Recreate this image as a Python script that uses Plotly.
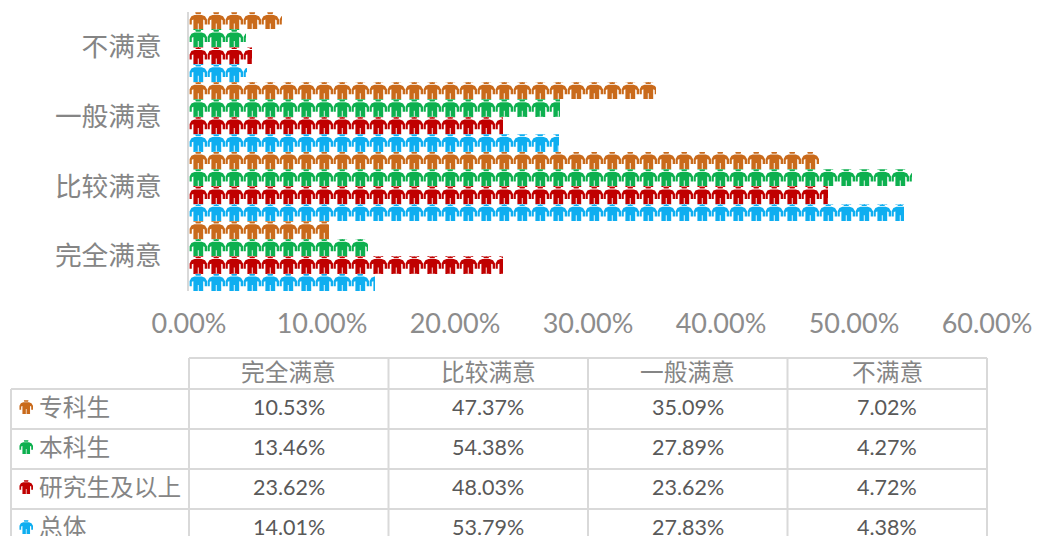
import base64
import plotly.graph_objects as go

categories = ["完全满意", "比较满意", "一般满意", "不满意"]
series_names = ["专科生", "本科生", "研究生及以上", "总体"]
zhuanke = [0.1053, 0.4737, 0.3509, 0.0702]
benke = [0.1346, 0.5438, 0.2789, 0.0427]
yanjiu = [0.2362, 0.4803, 0.2362, 0.0472]
zongti = [0.1401, 0.5379, 0.2783, 0.0438]
series_values = [zhuanke, benke, yanjiu, zongti]
colors = ["#C96A1B", "#0DB04F", "#C00000", "#0EAEF0"]

W, H = 1037, 536
L, R, T, B = 189, 987, 12, 291
PW, PH = R - L, B - T
TILE, ROW = 18.0, PH / 16

PERSON = ("M6.2 0.2H12.2L11.6 2.2H6.8Z"
          "M5.5 3H12.8L16 4.2L18 7.5V12.6H15.7V8.2L14.2 7.6V18H9.7V11.5H8.8V18H4.4V7.6L2.8 8.2V12.6H0.6V7.5L2.4 4.2Z")

def person_at(px, py, scale=1.0):
    out = []
    tok = PERSON.replace("M", " M ").replace("H", " H ").replace("V", " V ").replace("L", " L ").replace("Z", " Z ").split()
    i = 0
    while i < len(tok):
        t = tok[i]
        if t == "Z":
            out.append("Z"); i += 1
        elif t in "ML":
            out.append(f"{t}{px + float(tok[i+1]) * scale:.2f} {py + float(tok[i+2]) * scale:.2f}"); i += 3
        elif t == "H":
            out.append(f"H{px + float(tok[i+1]) * scale:.2f}"); i += 2
        elif t == "V":
            out.append(f"V{py + float(tok[i+1]) * scale:.2f}"); i += 2
    return "".join(out)

def uri(svg):
    return "data:image/svg+xml;base64," + base64.b64encode(svg.encode()).decode()

def mask_svg():
    d = f"M0 0H{PW}V{PH}H0Z"
    for r in range(16):
        for c in range(int(PW / TILE) + 1):
            d += person_at(c * TILE, r * ROW)
    return (f'<svg xmlns="http://www.w3.org/2000/svg" width="{PW}" height="{PH}" viewBox="0 0 {PW} {PH}">'
            f'<path d="{d}" fill="#ffffff" fill-rule="evenodd"/></svg>')

def icon_svg(color):
    return (f'<svg xmlns="http://www.w3.org/2000/svg" width="18" height="18" viewBox="0 0 18 18">'
            f'<path d="{person_at(0, 0)}" fill="{color}"/></svg>')

fig = go.Figure()
for name, vals, col in zip(series_names, series_values, colors):
    fig.add_bar(y=categories, x=vals, name=name, orientation="h",
                marker=dict(color=col, line=dict(width=0)))

def xp(px): return (px - L) / PW
def yp(py): return (B - py) / PH

GRID = "#D9D9D9"
col_x = [189, 388.5, 588, 787.5, 987]
row_y = [389, 429, 469, 509, 549]
HEAD_Y = 358
shapes = []
def seg(x0, y0, x1, y1):
    shapes.append(dict(type="line", xref="paper", yref="paper", x0=xp(x0), y0=yp(y0),
                       x1=xp(x1), y1=yp(y1), line=dict(color=GRID, width=2), layer="above"))
seg(col_x[0], HEAD_Y, col_x[-1], HEAD_Y)
for y in row_y:
    seg(11, y, col_x[-1], y)
seg(11, row_y[0], 11, row_y[-1])
for x in col_x:
    seg(x, HEAD_Y, x, row_y[-1])

ann = []
CJK = "Noto Sans CJK SC"
def text(s, x, y, size, font, color, anchor="center"):
    ann.append(dict(text=s, xref="paper", yref="paper", x=xp(x), y=yp(y), showarrow=False,
                    xanchor=anchor, yanchor="middle", font=dict(family=font, size=size, color=color)))
for j, c in enumerate(categories):
    text(c, (col_x[j] + col_x[j + 1]) / 2, 371, 23.7, CJK, "#858585")
images = [dict(source=uri(mask_svg()), xref="x", yref="paper", x=0, y=1, sizex=0.6, sizey=1,
               sizing="stretch", layer="above", xanchor="left", yanchor="top")]
for i, (name, vals, col) in enumerate(zip(series_names, series_values, colors)):
    cy = (row_y[i] + row_y[i + 1]) / 2 - 1
    text(name, 37, cy - 2, 23.7, CJK, "#858585", "left")
    for j, v in enumerate(vals):
        text(f"{v:.2%}", (col_x[j] + col_x[j + 1]) / 2, cy - 1, 21.5, "Lato", "#595959")
    images.append(dict(source=uri(icon_svg(col)), xref="paper", yref="paper", x=xp(19), y=yp(cy - 8),
                       sizex=14 / PW, sizey=14 / PH, sizing="stretch", layer="above",
                       xanchor="left", yanchor="top"))

fig.update_layout(
    width=W, height=H, autosize=False, showlegend=False,
    margin=dict(l=L, r=W - R, t=T, b=H - B, pad=0, autoexpand=False),
    paper_bgcolor="#FFFFFF", plot_bgcolor="#FFFFFF",
    barmode="group", bargap=0, bargroupgap=0,
    shapes=shapes, annotations=ann, images=images,
    xaxis=dict(range=[0, 0.6], dtick=0.1, tickformat=".2%", showgrid=False, zeroline=False,
               automargin=False, ticks="outside", ticklen=9, tickcolor="rgba(0,0,0,0)",
               tickfont=dict(family="Lato", size=27, color="#8C8C8C")),
    yaxis=dict(type="category", categoryorder="array", categoryarray=categories[::-1],
               autorange="reversed", showgrid=False, zeroline=False, showline=True, automargin=False,
               linecolor=GRID, linewidth=2, ticks="outside", ticklen=20, tickcolor="rgba(0,0,0,0)",
               tickfont=dict(family=CJK, size=26.7, color="#858585")),
)
fig.write_html("out.html", config={"displayModeBar": False},
               post_script="document.body.style.margin='0';document.body.style.overflow='hidden';")
